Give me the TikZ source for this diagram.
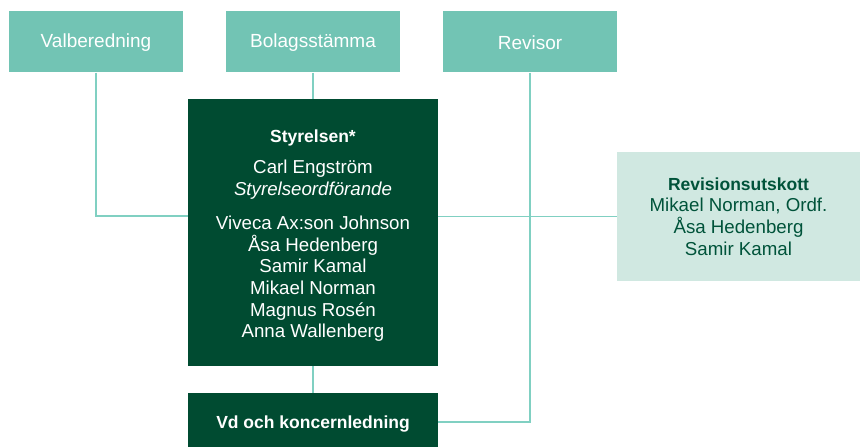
\documentclass[tikz,border=0pt]{standalone}
\usepackage{fontspec}
\setmainfont{Liberation Sans}
\definecolor{teal}{HTML}{72C4B4}
\definecolor{dkgreen}{HTML}{004B31}
\definecolor{mint}{HTML}{D0E8E1}
\definecolor{linec}{HTML}{80D0C2}
\definecolor{minttext}{HTML}{00533A}
\newcommand{\hd}[1]{{\fontsize{17.5bp}{21.7bp}\selectfont\bfseries #1}}
\tikzset{
  topbox/.style={rectangle, fill=teal, text=white, minimum width=174bp, minimum height=61bp, inner sep=0pt, font=\fontsize{19bp}{21.7bp}\selectfont},
  darkbox/.style={rectangle, fill=dkgreen, text=white, minimum width=250bp, inner sep=0pt, align=center, font=\fontsize{18.7bp}{21.7bp}\selectfont},
  mintbox/.style={rectangle, fill=mint, text=minttext, minimum width=243bp, minimum height=129bp, inner sep=0pt, align=center, font=\fontsize{18.7bp}{21.7bp}\selectfont},
  conn/.style={draw=linec, line width=1.3bp}
}
\begin{document}
\begin{tikzpicture}[x=1bp,y=-1bp]
\useasboundingbox (0,0) rectangle (860,447);
\node[topbox] (val) at (96,42) {\rule{0pt}{15bp}Valberedning};
\node[topbox] (bol) at (313,42) {\rule{0pt}{15bp}Bolagsstämma};
\node[topbox] (rev) at (530,42) {\rule{0pt}{15bp}Revisor};
\node[darkbox, minimum height=267bp] (sty) at (313,232.5) {\rule{0pt}{19bp}\hd{Styrelsen*}\\[10bp]
Carl Engström\\ \textit{Styrelseordförande}\\[12bp]
Viveca Ax:son Johnson\\ Åsa Hedenberg\\ Samir Kamal\\ Mikael Norman\\ Magnus Rosén\\ Anna Wallenberg};
\node[darkbox, minimum height=54bp] (vd) at (313,420) {\rule{0pt}{20bp}\hd{Vd och koncernledning}};
\node[mintbox] (ru) at (738.5,216.5) {\hd{Revisionsutskott}\\ Mikael Norman, Ordf.\\ Åsa Hedenberg\\ Samir Kamal};
\coordinate (jl) at (188,216);
\coordinate (jv) at (438,422);
\draw[conn] (val.south) |- (jl);
\draw[conn] (bol.south) -- (sty.north);
\draw[conn] (sty.south) -- (vd.north);
\draw[conn] (sty.east |- ru.west) -- (ru.west);
\draw[conn] (rev.south) |- (jv);
\end{tikzpicture}
\end{document}
